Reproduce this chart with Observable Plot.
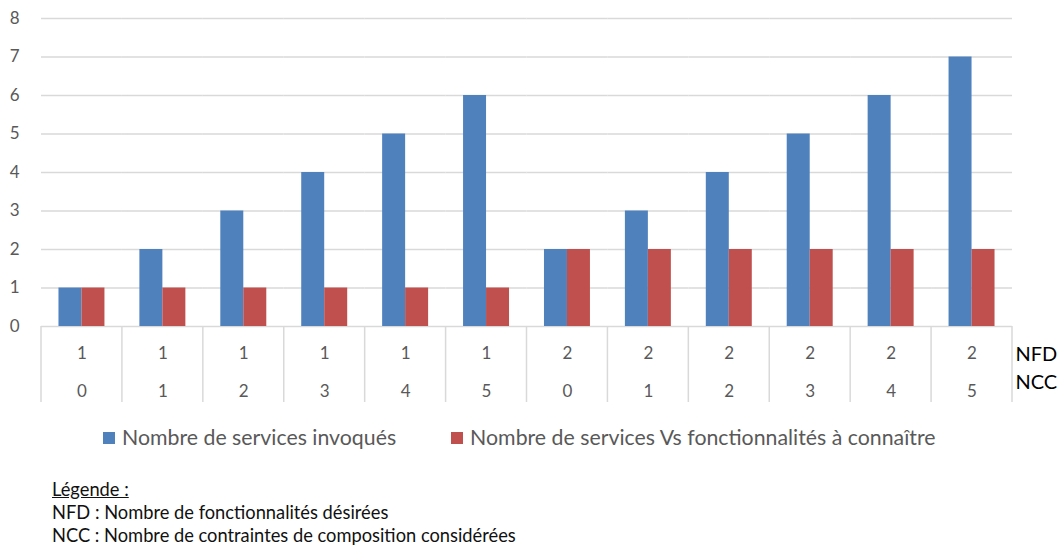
<!DOCTYPE html>
<html><head><meta charset="utf-8">
<script src="https://cdn.jsdelivr.net/npm/d3@7"></script>
<script src="https://cdn.jsdelivr.net/npm/@observablehq/plot@0.6"></script>
<style>
body{margin:0;background:#fff;font-family:Lato,"Open Sans",sans-serif;}
#wrap{position:relative;width:1062px;height:547px;overflow:hidden;}
#chart svg{display:block;}
.legend{position:absolute;top:424px;left:103px;font-size:21.3px;color:#595959;white-space:nowrap;line-height:26px;}
.legend .item{display:inline-block;}
.legend .item + .item{margin-left:55px;}
.legend .sw{display:inline-block;width:12px;height:12px;margin-right:7px;vertical-align:1px;}
.caption{position:absolute;top:478px;left:52px;font-size:18.3px;color:#111;line-height:23px;white-space:nowrap;}
.caption u{text-decoration:underline;}
</style></head><body>
<div id="wrap">
<div id="chart"></div>
<div class="legend" id="legend"></div>
<div class="caption"><u>Légende :</u><br>NFD : Nombre de fonctionnalités désirées<br>NCC : Nombre de contraintes de composition considérées</div>
</div>
<script>
const nfd = [1, 1, 1, 1, 1, 1, 2, 2, 2, 2, 2, 2];
const ncc = [0, 1, 2, 3, 4, 5, 0, 1, 2, 3, 4, 5];
const seriesNames = ["Nombre de services invoqués", "Nombre de services Vs fonctionnalités à connaître"];
const invoked = [1, 2, 3, 4, 5, 6, 2, 3, 4, 5, 6, 7];
const vsKnown = [1, 1, 1, 1, 1, 1, 2, 2, 2, 2, 2, 2];
const rowLabels = ["NFD", "NCC"];
const yTicks = [0, 1, 2, 3, 4, 5, 6, 7, 8];
const colors = ["#4F81BD", "#C0504D"];

const groups = nfd.map((n, i) => `${n}-${ncc[i]}`);
const rows = groups.map((g, i) => ({group: g, nfd: nfd[i], ncc: ncc[i]}));
const data = groups.flatMap((g, i) => [
  {group: g, series: seriesNames[0], value: invoked[i]},
  {group: g, series: seriesNames[1], value: vsKnown[i]}
]);
const last = groups[groups.length - 1];

const plot = Plot.plot({
  width: 1062, height: 410,
  marginTop: 18, marginLeft: 41, marginRight: 50, marginBottom: 84,
  style: {fontFamily: "Lato, 'Open Sans', sans-serif", fontSize: "17px", color: "#595959", background: "#fff", overflow: "visible"},
  fx: {domain: groups, paddingInner: 0, paddingOuter: 0, round: false, axis: null, label: null},
  x: {domain: seriesNames, axis: null, paddingInner: 0, paddingOuter: 0.76, round: false},
  y: {domain: [0, 8], ticks: yTicks, tickSize: 0, tickPadding: 22, label: null},
  color: {domain: seriesNames, range: colors},
  marks: [
    Plot.ruleY(yTicks, {y: d => d, stroke: "#d9d9d9", strokeWidth: 1.5}),
    Plot.barY(data, {fx: "group", x: "series", y: "value", fill: "series"}),
    Plot.text(rows, {fx: "group", text: "nfd", frameAnchor: "bottom", lineAnchor: "middle", dy: 27, fill: "#595959"}),
    Plot.text(rows, {fx: "group", text: "ncc", frameAnchor: "bottom", lineAnchor: "middle", dy: 65, fill: "#595959"}),
    Plot.text([rowLabels[0]], {fx: () => last, text: d => d, frameAnchor: "bottom-right", textAnchor: "start", lineAnchor: "middle", dx: 3, dy: 28, fill: "#000", fontSize: 20}),
    Plot.text([rowLabels[1]], {fx: () => last, text: d => d, frameAnchor: "bottom-right", textAnchor: "start", lineAnchor: "middle", dx: 3, dy: 56, fill: "#000", fontSize: 20})
  ]
});
document.getElementById("chart").appendChild(plot);

// table separators driven by the fx and y scales
const fxs = plot.scale("fx");
const ys = plot.scale("y");
const bounds = groups.map(g => fxs.apply(g)).concat([fxs.apply(last) + fxs.bandwidth]);
const y0 = ys.apply(0);
d3.select(plot).append("g")
  .attr("stroke", "#d9d9d9").attr("stroke-width", 1.5)
  .selectAll("line").data(bounds).join("line")
  .attr("x1", d => d).attr("x2", d => d)
  .attr("y1", y0).attr("y2", y0 + 76);

// legend
const lg = d3.select("#legend");
seriesNames.forEach((s, i) => {
  const it = lg.append("span").attr("class", "item");
  it.append("span").attr("class", "sw").style("background", colors[i]);
  it.append("span").text(s);
});
</script>
</body></html>
